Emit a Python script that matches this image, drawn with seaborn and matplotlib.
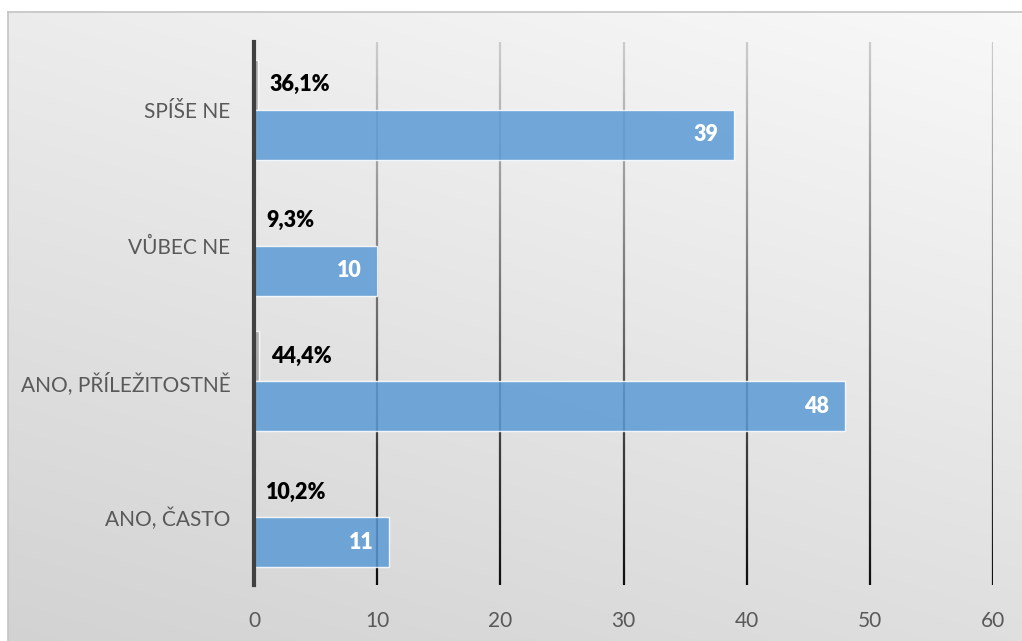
import numpy as np
import pandas as pd
import matplotlib
matplotlib.use("Agg")
import matplotlib.pyplot as plt
from matplotlib.collections import LineCollection
import seaborn as sns

# Survey answers, top to bottom
categories = ["SPÍŠE NE", "VŮBEC NE", "ANO, PŘÍLEŽITOSTNĚ", "ANO, ČASTO"]
share = [0.361, 0.093, 0.444, 0.102]   # share of respondents
count = [39, 10, 48, 11]               # number of respondents
x_ticks = [0, 10, 20, 30, 40, 50, 60]

sns.set_style("white")
plt.rcParams["font.family"] = ["Lato", "DejaVu Sans"]

W, H = 1022, 641
fig = plt.figure(figsize=(W / 100, H / 100), dpi=100)
fig.patch.set_facecolor("white")

# Panel with a soft diagonal gradient and a thin frame
bg = fig.add_axes([8 / W, 0, 1 - 8 / W, (H - 12) / H], zorder=0)
yy, xx = np.mgrid[0:1:200j, 0:1:300j]
shade = 0.975 - 0.10 * yy - 0.05 * (1 - xx)
bg.imshow(np.dstack([shade] * 3), aspect="auto", interpolation="bilinear")
bg.set_xticks([])
bg.set_yticks([])
for side in ("right", "bottom"):
    bg.spines[side].set_visible(False)
for side in ("left", "top"):
    bg.spines[side].set_color("#c4c4c4")
    bg.spines[side].set_linewidth(1.2)

ax = fig.add_axes([254 / W, 56 / H, 739 / W, 543 / H], zorder=1)
ax.patch.set_alpha(0)

df = pd.DataFrame({
    "kategorie": categories * 2,
    "řada": ["Podíl"] * len(categories) + ["Počet"] * len(categories),
    "hodnota": share + count,
})

sns.barplot(
    data=df, y="kategorie", x="hodnota", hue="řada", orient="h",
    order=categories, hue_order=["Podíl", "Počet"],
    palette={"Podíl": "#A5A5A5", "Počet": "#5B9BD5"}, saturation=1,
    width=0.737, alpha=0.85, edgecolor="white", linewidth=1,
    legend=False, ax=ax, zorder=3,
)

ax.set_xlim(0, 60)
ax.set_ylim(3.5, -0.5)

# Vertical gridlines fading from light grey at the top to black at the bottom
ys = np.linspace(-0.5, 3.5, 160)
mid = (ys[:-1] + ys[1:]) / 2
tone = 0.80 - 0.75 * (mid + 0.5) / 4.0
for xv in x_ticks[1:]:
    segs = [[(xv, ys[i]), (xv, ys[i + 1])] for i in range(len(ys) - 1)]
    lc = LineCollection(segs, colors=[(g, g, g) for g in tone],
                        linewidths=1.6, zorder=1)
    ax.add_collection(lc)

for side in ("top", "right", "bottom"):
    ax.spines[side].set_visible(False)
ax.spines["left"].set_color("#404040")
ax.spines["left"].set_linewidth(3)
ax.spines["left"].set_zorder(5)

ax.set_xticks(x_ticks)
ax.set_xticklabels([str(t) for t in x_ticks])
ax.tick_params(axis="x", length=0, pad=19, labelsize=15, labelcolor="#595959")
ax.tick_params(axis="y", length=0, pad=17, labelsize=15, labelcolor="#595959")
ax.set_xlabel("")
ax.set_ylabel("")

share_bars, count_bars = ax.containers[0], ax.containers[1]
for bar in share_bars:
    v = bar.get_width()
    ax.annotate(f"{v * 100:.1f}".replace(".", ",") + "%",
                xy=(v, bar.get_y() + bar.get_height() / 2),
                xytext=(8, 0), textcoords="offset points",
                ha="left", va="center", fontsize=15.5, fontweight="heavy",
                color="black", zorder=6)
for bar in count_bars:
    v = bar.get_width()
    ax.annotate(f"{v:.0f}",
                xy=(v, bar.get_y() + bar.get_height() / 2),
                xytext=(-11.5, 0), textcoords="offset points",
                ha="right", va="center", fontsize=15.5, fontweight="heavy",
                color="white", zorder=6)

fig.savefig("out.png", dpi=100, facecolor=fig.get_facecolor())
